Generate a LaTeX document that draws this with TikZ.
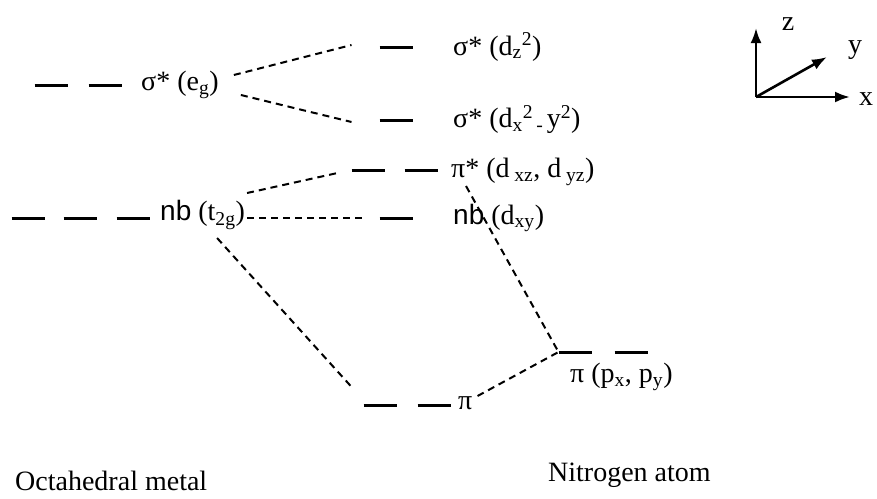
\documentclass[tikz,border=0pt]{standalone}
\usepackage{fontspec}
\setmainfont{Liberation Serif}
\newfontfamily\nbfont{Liberation Sans}
\usetikzlibrary{arrows.meta}

\begin{document}
\begin{tikzpicture}[
        x=1pt, y=-1pt,
        font=\fontsize{28}{32}\selectfont,
        lvl/.style={minimum width=33pt, minimum height=0pt, inner sep=0pt, outer sep=0pt},
        level/.style={line width=3pt},
        orb/.style={anchor=west, inner sep=0pt},
        conn/.style={line width=2pt, dash pattern=on 7pt off 5pt},
        axis/.style={-{Latex[length=15pt, width=11pt]}, line width=2.6pt}
    ]
    \useasboundingbox (0,0) rectangle (877,498);
    \node[lvl] (eg1) at (51,85) {};
    \node[lvl] (eg2) at (105,85) {};
    \node[lvl] (t1) at (28,218) {};
    \node[lvl] (t2) at (80,218) {};
    \node[lvl] (t3) at (133,218) {};
    \node[lvl] (dz2) at (396,47) {};
    \node[lvl] (dx2) at (396,120) {};
    \node[lvl] (pis1) at (368,170) {};
    \node[lvl] (pis2) at (421,170) {};
    \node[lvl] (dxy) at (396,218) {};
    \node[lvl] (pib1) at (380,405) {};
    \node[lvl] (pib2) at (434,405) {};
    \node[lvl] (px1) at (575,352) {};
    \node[lvl] (px2) at (631,352) {};
    \foreach \n in {eg1,eg2,t1,t2,t3,dz2,dx2,pis1,pis2,dxy,pib1,pib2,px1,px2}
        \draw[level] (\n.west) -- (\n.east);

    \node[orb] (egl) at (141,85) {σ* (e\textsubscript{g})};
    \node[orb] (t2gl) at (160,215) {{\nbfont nb} (t\textsubscript{2g})};
    \node[orb] (dz2l) at (453,47) {σ* (d\textsubscript{z}\textsuperscript{2})};
    \node[orb] (dx2l) at (453,120) {σ* (d\textsubscript{x}\textsuperscript{2}\textsubscript{\,-\,}y\textsuperscript{2})};
    \node[orb] (pisl) at (451,172) {π* (d\,\textsubscript{xz}, d\,\textsubscript{yz})};
    \node[orb] (dxyl) at (453,218) {{\nbfont nb} (d\textsubscript{xy})};
    \node[orb] (pibl) at (458,403) {π};
    \node[orb] (pxl) at (570,377) {π (p\textsubscript{x}, p\textsubscript{y})};
    \node[orb] (metal) at (15,481) {Octahedral metal};
    \node[orb] (natom) at (548,475) {Nitrogen atom};

    \draw[conn] ([xshift=15pt,yshift=10pt]egl.east) -- ([xshift=-28pt,yshift=2pt]dz2.west);
    \draw[conn] ([xshift=22pt,yshift=-10pt]egl.east) -- ([xshift=-28pt,yshift=-2pt]dx2.west);
    \draw[conn] ([xshift=2pt,yshift=22pt]t2gl.east) -- ([xshift=-14pt,yshift=-3pt]pis1.west);
    \draw[conn] ([xshift=2pt,yshift=-3pt]t2gl.east) -- ([xshift=-13pt]dxy.west);
    \draw[conn] ([xshift=-28pt,yshift=-23pt]t2gl.east) -- ([xshift=-11pt,yshift=17pt]pib1.west);
    \draw[conn] ([xshift=15pt,yshift=-14pt]pisl.west) -- (px1.west);
    \draw[conn] ([xshift=5pt,yshift=7pt]pibl.east) -- (px1.west);

    \coordinate (O) at (756,97);
    \coordinate (zt) at (756,28);
    \coordinate (xt) at (850,97);
    \coordinate (yt) at (827,57);
    \draw[axis] (O) -- (zt);
    \draw[axis] (O) -- (xt);
    \draw[axis] (O) -- (yt);
    \node (zl) at (788,24) {z};
    \node (yl) at (855,50) {y};
    \node (xl) at (866,99) {x};
\end{tikzpicture}
\end{document}
